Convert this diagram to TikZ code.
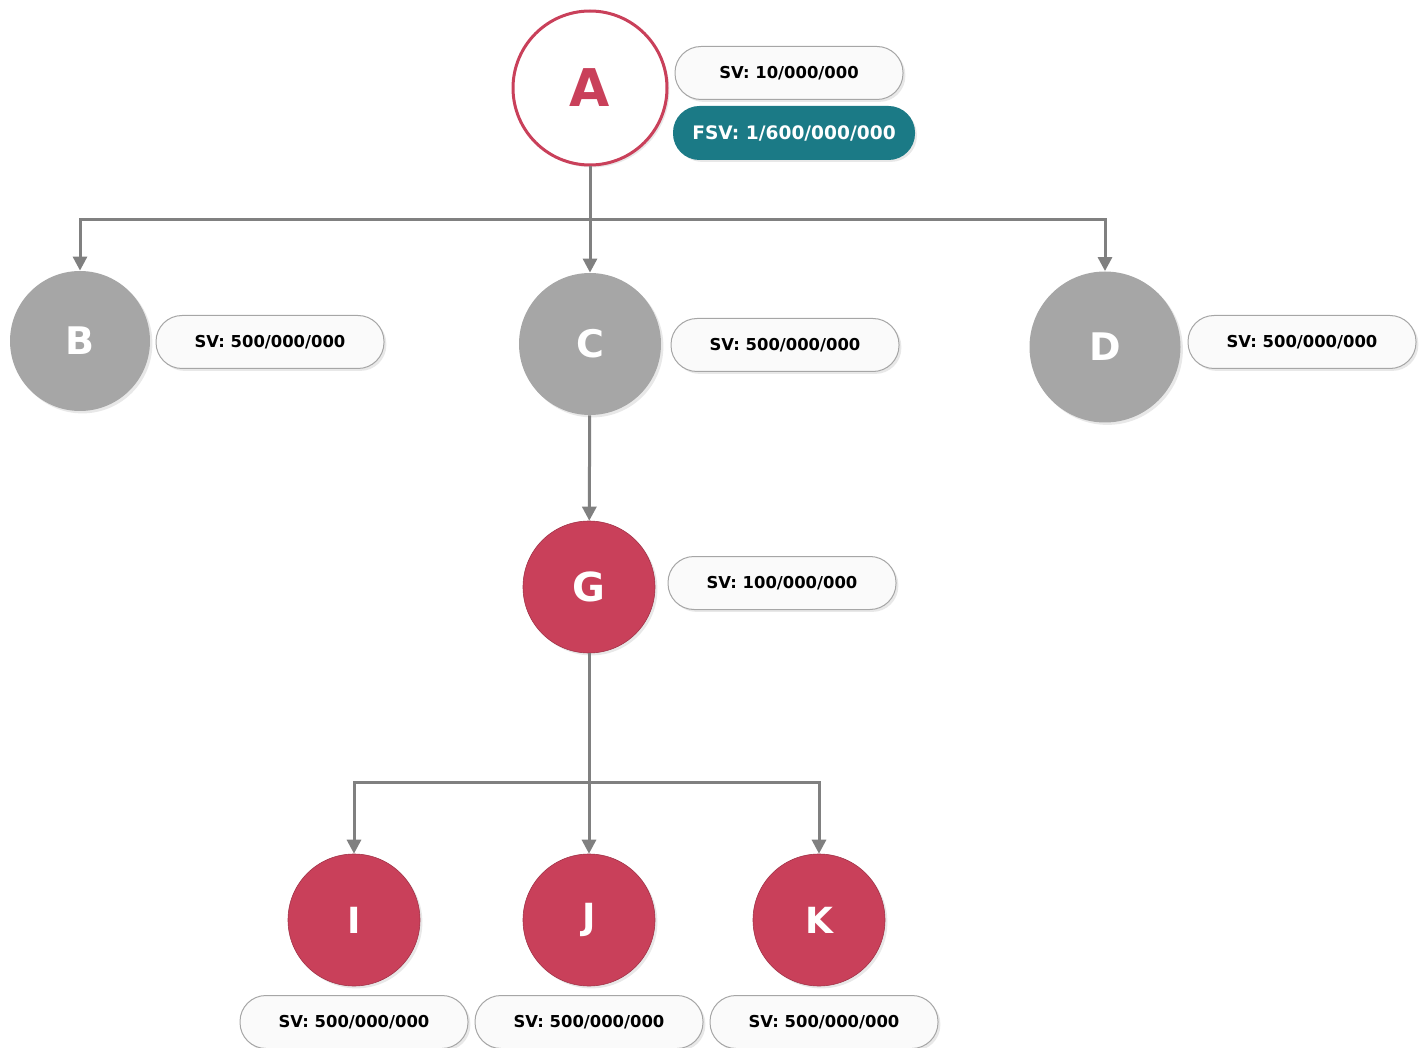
\documentclass[tikz,border=0pt]{standalone}
\usepackage{fontspec}
\setmainfont{DejaVu Sans}
\usetikzlibrary{arrows.meta,shadows}
\definecolor{dodo}{HTML}{C9405A}
\definecolor{xam}{HTML}{A6A6A6}
\definecolor{xanhla}{HTML}{1B7A86}
\definecolor{duong}{HTML}{808080}
\begin{document}
\begin{tikzpicture}[x=0.5pt,y=-0.5pt,
	bong/.style={drop shadow={shadow xshift=1.2pt,shadow yshift=-1.2pt,opacity=0.18}},
	nutxam/.style={circle,inner sep=0pt,fill=xam,text=white,bong,font=\bfseries\fontsize{19}{22}\selectfont},
	nutdo/.style={circle,inner sep=0pt,fill=dodo,draw=dodo!80!black,line width=0.3pt,text=white,bong,font=\bfseries\fontsize{19}{22}\selectfont},
	nhan/.style={rounded corners=13pt,minimum width=114pt,minimum height=26.5pt,inner sep=0pt,fill=black!2,draw=black!35,line width=0.5pt,bong,font=\bfseries\fontsize{8.2}{10}\selectfont},
	noi/.style={draw=duong,line width=1.5pt},
	mui/.style={noi,-{Triangle[length=7pt,width=7pt]}}]
	\useasboundingbox (0,0) rectangle (1426,1048);
	% cac nut
	\node[circle,minimum size=77pt,inner sep=0pt,fill=white,draw=dodo,line width=1.5pt,bong,text=dodo,font=\bfseries\fontsize{26}{30}\selectfont] (A) at (590,88) {A};
	\node[nutxam,minimum size=70pt] (B) at (80,341) {B};
	\node[nutxam,minimum size=71pt] (C) at (590,344) {C};
	\node[nutxam,minimum size=75.5pt] (D) at (1105,347) {D};
	\node[nutdo,minimum size=66pt,font=\bfseries\fontsize{20}{24}\selectfont] (G) at (589,587) {G};
	\node[nutdo,minimum size=66pt,font=\bfseries\fontsize{18}{22}\selectfont] (I) at (354,920) {I};
	\node[nutdo,minimum size=66pt,font=\bfseries\fontsize{18}{22}\selectfont] (J) at (589,920) {J};
	\node[nutdo,minimum size=66pt,font=\bfseries\fontsize{18}{22}\selectfont] (K) at (819,920) {K};
	% cac nhan
	\node[nhan] (svA) at (789,73) {SV: 10/000/000};
	\node[nhan,minimum width=120.5pt,fill=xanhla,draw=xanhla,text=white,font=\bfseries\fontsize{9.3}{11}\selectfont] (fsvA) at (794,133) {FSV: 1/600/000/000};
	\node[nhan] (svB) at (270,342) {SV: 500/000/000};
	\node[nhan] (svC) at (785,345) {SV: 500/000/000};
	\node[nhan] (svD) at (1302,342) {SV: 500/000/000};
	\node[nhan] (svG) at (782,583) {SV: 100/000/000};
	\node[nhan] (svI) at (354,1022) {SV: 500/000/000};
	\node[nhan] (svJ) at (589,1022) {SV: 500/000/000};
	\node[nhan] (svK) at (824,1022) {SV: 500/000/000};
	% duong noi
	\coordinate (tach1) at (590,220);
	\coordinate (tach2) at (589,782);
	\draw[noi] (A) -- (tach1);
	\draw[mui] (tach1) -| (B);
	\draw[mui] (tach1) -- (C);
	\draw[mui] (tach1) -| (D);
	\draw[mui] (C) -- (G);
	\draw[noi] (G) -- (tach2);
	\draw[mui] (tach2) -| (I);
	\draw[mui] (tach2) -- (J);
	\draw[mui] (tach2) -| (K);
\end{tikzpicture}
\end{document}
